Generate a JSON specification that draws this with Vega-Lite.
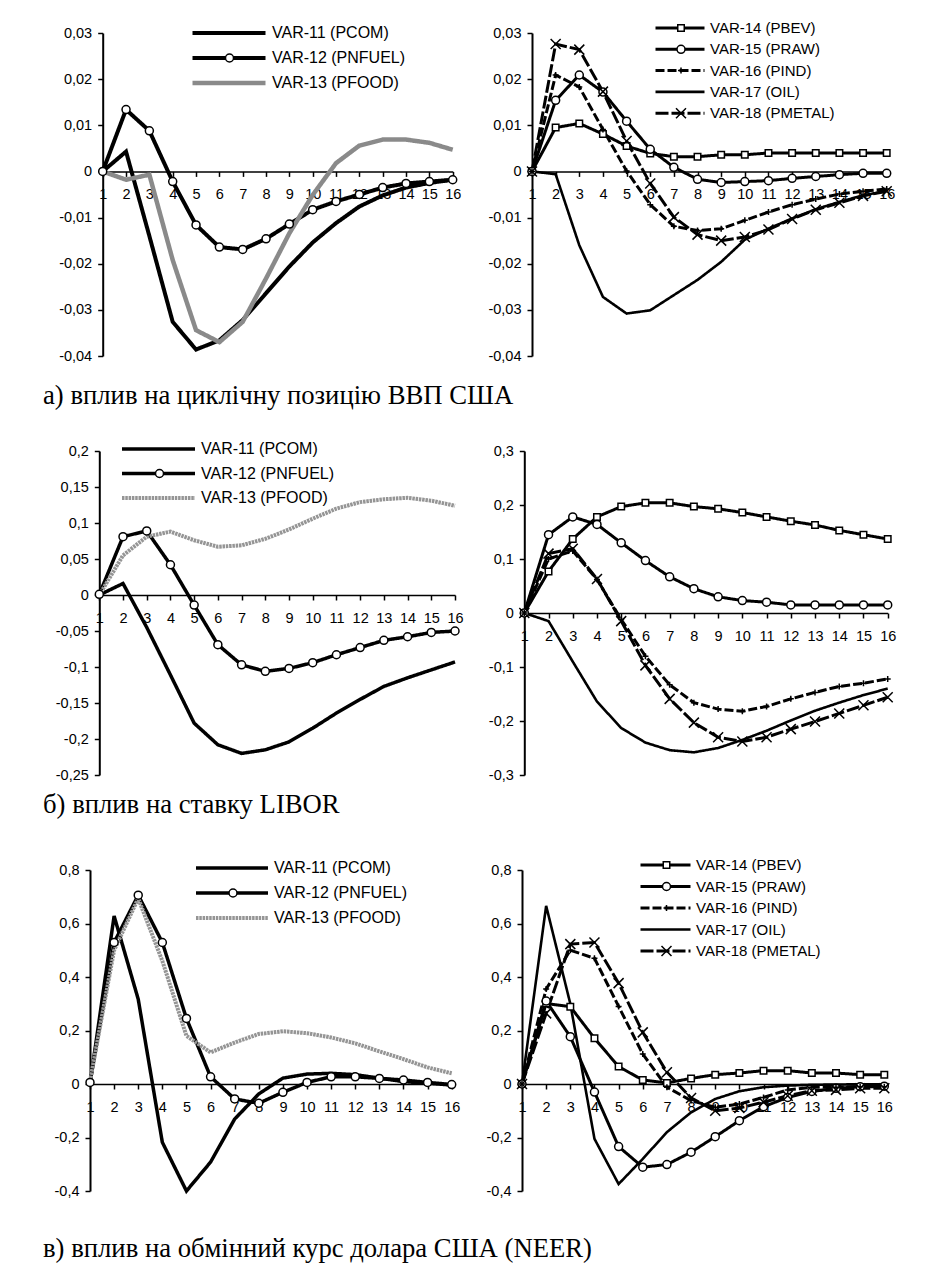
{
"$schema":"https://vega.github.io/schema/vega-lite/v6.json",
"background":"white",
"padding":{"left":43,"top":20,"right":5,"bottom":5},
"datasets":{
"p1":[
{"s":"VAR-11 (PCOM)","t":1,"v":0},{"s":"VAR-11 (PCOM)","t":2,"v":0.0043},{"s":"VAR-11 (PCOM)","t":3,"v":-0.014},{"s":"VAR-11 (PCOM)","t":4,"v":-0.0326},{"s":"VAR-11 (PCOM)","t":5,"v":-0.0386},{"s":"VAR-11 (PCOM)","t":6,"v":-0.0366},{"s":"VAR-11 (PCOM)","t":7,"v":-0.0322},{"s":"VAR-11 (PCOM)","t":8,"v":-0.0264},{"s":"VAR-11 (PCOM)","t":9,"v":-0.0206},{"s":"VAR-11 (PCOM)","t":10,"v":-0.0154},{"s":"VAR-11 (PCOM)","t":11,"v":-0.0112},{"s":"VAR-11 (PCOM)","t":12,"v":-0.0076},{"s":"VAR-11 (PCOM)","t":13,"v":-0.0052},{"s":"VAR-11 (PCOM)","t":14,"v":-0.0035},{"s":"VAR-11 (PCOM)","t":15,"v":-0.0025},{"s":"VAR-11 (PCOM)","t":16,"v":-0.0018},
{"s":"VAR-12 (PNFUEL)","t":1,"v":0},{"s":"VAR-12 (PNFUEL)","t":2,"v":0.0134},{"s":"VAR-12 (PNFUEL)","t":3,"v":0.0088},{"s":"VAR-12 (PNFUEL)","t":4,"v":-0.0022},{"s":"VAR-12 (PNFUEL)","t":5,"v":-0.0116},{"s":"VAR-12 (PNFUEL)","t":6,"v":-0.0164},{"s":"VAR-12 (PNFUEL)","t":7,"v":-0.0169},{"s":"VAR-12 (PNFUEL)","t":8,"v":-0.0146},{"s":"VAR-12 (PNFUEL)","t":9,"v":-0.0114},{"s":"VAR-12 (PNFUEL)","t":10,"v":-0.0083},{"s":"VAR-12 (PNFUEL)","t":11,"v":-0.0065},{"s":"VAR-12 (PNFUEL)","t":12,"v":-0.005},{"s":"VAR-12 (PNFUEL)","t":13,"v":-0.0035},{"s":"VAR-12 (PNFUEL)","t":14,"v":-0.0026},{"s":"VAR-12 (PNFUEL)","t":15,"v":-0.0022},{"s":"VAR-12 (PNFUEL)","t":16,"v":-0.0018},
{"s":"VAR-13 (PFOOD)","t":1,"v":0},{"s":"VAR-13 (PFOOD)","t":2,"v":-0.0018},{"s":"VAR-13 (PFOOD)","t":3,"v":-0.0007},{"s":"VAR-13 (PFOOD)","t":4,"v":-0.0192},{"s":"VAR-13 (PFOOD)","t":5,"v":-0.0344},{"s":"VAR-13 (PFOOD)","t":6,"v":-0.037},{"s":"VAR-13 (PFOOD)","t":7,"v":-0.0326},{"s":"VAR-13 (PFOOD)","t":8,"v":-0.0232},{"s":"VAR-13 (PFOOD)","t":9,"v":-0.0134},{"s":"VAR-13 (PFOOD)","t":10,"v":-0.0051},{"s":"VAR-13 (PFOOD)","t":11,"v":0.0018},{"s":"VAR-13 (PFOOD)","t":12,"v":0.0056},{"s":"VAR-13 (PFOOD)","t":13,"v":0.0069},{"s":"VAR-13 (PFOOD)","t":14,"v":0.0069},{"s":"VAR-13 (PFOOD)","t":15,"v":0.0062},{"s":"VAR-13 (PFOOD)","t":16,"v":0.0047}
],
"p2":[
{"s":"VAR-14 (PBEV)","t":1,"v":0},{"s":"VAR-14 (PBEV)","t":2,"v":0.0095},{"s":"VAR-14 (PBEV)","t":3,"v":0.0104},{"s":"VAR-14 (PBEV)","t":4,"v":0.0081},{"s":"VAR-14 (PBEV)","t":5,"v":0.0055},{"s":"VAR-14 (PBEV)","t":6,"v":0.0039},{"s":"VAR-14 (PBEV)","t":7,"v":0.0032},{"s":"VAR-14 (PBEV)","t":8,"v":0.0032},{"s":"VAR-14 (PBEV)","t":9,"v":0.0036},{"s":"VAR-14 (PBEV)","t":10,"v":0.0036},{"s":"VAR-14 (PBEV)","t":11,"v":0.004},{"s":"VAR-14 (PBEV)","t":12,"v":0.004},{"s":"VAR-14 (PBEV)","t":13,"v":0.004},{"s":"VAR-14 (PBEV)","t":14,"v":0.004},{"s":"VAR-14 (PBEV)","t":15,"v":0.004},{"s":"VAR-14 (PBEV)","t":16,"v":0.004},
{"s":"VAR-15 (PRAW)","t":1,"v":0},{"s":"VAR-15 (PRAW)","t":2,"v":0.0154},{"s":"VAR-15 (PRAW)","t":3,"v":0.0209},{"s":"VAR-15 (PRAW)","t":4,"v":0.0172},{"s":"VAR-15 (PRAW)","t":5,"v":0.0109},{"s":"VAR-15 (PRAW)","t":6,"v":0.0048},{"s":"VAR-15 (PRAW)","t":7,"v":0.0009},{"s":"VAR-15 (PRAW)","t":8,"v":-0.0017},{"s":"VAR-15 (PRAW)","t":9,"v":-0.0024},{"s":"VAR-15 (PRAW)","t":10,"v":-0.0022},{"s":"VAR-15 (PRAW)","t":11,"v":-0.002},{"s":"VAR-15 (PRAW)","t":12,"v":-0.0015},{"s":"VAR-15 (PRAW)","t":13,"v":-0.0011},{"s":"VAR-15 (PRAW)","t":14,"v":-0.0007},{"s":"VAR-15 (PRAW)","t":15,"v":-0.0004},{"s":"VAR-15 (PRAW)","t":16,"v":-0.0004},
{"s":"VAR-16 (PIND)","t":1,"v":0},{"s":"VAR-16 (PIND)","t":2,"v":0.0209},{"s":"VAR-16 (PIND)","t":3,"v":0.0183},{"s":"VAR-16 (PIND)","t":4,"v":0.0091},{"s":"VAR-16 (PIND)","t":5,"v":0.0001},{"s":"VAR-16 (PIND)","t":6,"v":-0.0072},{"s":"VAR-16 (PIND)","t":7,"v":-0.0119},{"s":"VAR-16 (PIND)","t":8,"v":-0.0128},{"s":"VAR-16 (PIND)","t":9,"v":-0.0124},{"s":"VAR-16 (PIND)","t":10,"v":-0.0106},{"s":"VAR-16 (PIND)","t":11,"v":-0.0088},{"s":"VAR-16 (PIND)","t":12,"v":-0.0072},{"s":"VAR-16 (PIND)","t":13,"v":-0.006},{"s":"VAR-16 (PIND)","t":14,"v":-0.0049},{"s":"VAR-16 (PIND)","t":15,"v":-0.0043},{"s":"VAR-16 (PIND)","t":16,"v":-0.0038},
{"s":"VAR-17 (OIL)","t":1,"v":0},{"s":"VAR-17 (OIL)","t":2,"v":-0.0006},{"s":"VAR-17 (OIL)","t":3,"v":-0.016},{"s":"VAR-17 (OIL)","t":4,"v":-0.0272},{"s":"VAR-17 (OIL)","t":5,"v":-0.0308},{"s":"VAR-17 (OIL)","t":6,"v":-0.0301},{"s":"VAR-17 (OIL)","t":7,"v":-0.0268},{"s":"VAR-17 (OIL)","t":8,"v":-0.0235},{"s":"VAR-17 (OIL)","t":9,"v":-0.0196},{"s":"VAR-17 (OIL)","t":10,"v":-0.0148},{"s":"VAR-17 (OIL)","t":11,"v":-0.0124},{"s":"VAR-17 (OIL)","t":12,"v":-0.0102},{"s":"VAR-17 (OIL)","t":13,"v":-0.0082},{"s":"VAR-17 (OIL)","t":14,"v":-0.0066},{"s":"VAR-17 (OIL)","t":15,"v":-0.0052},{"s":"VAR-17 (OIL)","t":16,"v":-0.0042},
{"s":"VAR-18 (PMETAL)","t":1,"v":0},{"s":"VAR-18 (PMETAL)","t":2,"v":0.0276},{"s":"VAR-18 (PMETAL)","t":3,"v":0.0264},{"s":"VAR-18 (PMETAL)","t":4,"v":0.0173},{"s":"VAR-18 (PMETAL)","t":5,"v":0.0066},{"s":"VAR-18 (PMETAL)","t":6,"v":-0.0026},{"s":"VAR-18 (PMETAL)","t":7,"v":-0.0099},{"s":"VAR-18 (PMETAL)","t":8,"v":-0.0137},{"s":"VAR-18 (PMETAL)","t":9,"v":-0.015},{"s":"VAR-18 (PMETAL)","t":10,"v":-0.0142},{"s":"VAR-18 (PMETAL)","t":11,"v":-0.0126},{"s":"VAR-18 (PMETAL)","t":12,"v":-0.0103},{"s":"VAR-18 (PMETAL)","t":13,"v":-0.0083},{"s":"VAR-18 (PMETAL)","t":14,"v":-0.0068},{"s":"VAR-18 (PMETAL)","t":15,"v":-0.0053},{"s":"VAR-18 (PMETAL)","t":16,"v":-0.0043}
],
"p3":[
{"s":"VAR-11 (PCOM)","t":1,"v":0},{"s":"VAR-11 (PCOM)","t":2,"v":0.016},{"s":"VAR-11 (PCOM)","t":3,"v":-0.045},{"s":"VAR-11 (PCOM)","t":4,"v":-0.111},{"s":"VAR-11 (PCOM)","t":5,"v":-0.178},{"s":"VAR-11 (PCOM)","t":6,"v":-0.208},{"s":"VAR-11 (PCOM)","t":7,"v":-0.22},{"s":"VAR-11 (PCOM)","t":8,"v":-0.215},{"s":"VAR-11 (PCOM)","t":9,"v":-0.204},{"s":"VAR-11 (PCOM)","t":10,"v":-0.185},{"s":"VAR-11 (PCOM)","t":11,"v":-0.164},{"s":"VAR-11 (PCOM)","t":12,"v":-0.145},{"s":"VAR-11 (PCOM)","t":13,"v":-0.127},{"s":"VAR-11 (PCOM)","t":14,"v":-0.115},{"s":"VAR-11 (PCOM)","t":15,"v":-0.104},{"s":"VAR-11 (PCOM)","t":16,"v":-0.093},
{"s":"VAR-12 (PNFUEL)","t":1,"v":0.001},{"s":"VAR-12 (PNFUEL)","t":2,"v":0.081},{"s":"VAR-12 (PNFUEL)","t":3,"v":0.089},{"s":"VAR-12 (PNFUEL)","t":4,"v":0.042},{"s":"VAR-12 (PNFUEL)","t":5,"v":-0.014},{"s":"VAR-12 (PNFUEL)","t":6,"v":-0.069},{"s":"VAR-12 (PNFUEL)","t":7,"v":-0.097},{"s":"VAR-12 (PNFUEL)","t":8,"v":-0.106},{"s":"VAR-12 (PNFUEL)","t":9,"v":-0.102},{"s":"VAR-12 (PNFUEL)","t":10,"v":-0.094},{"s":"VAR-12 (PNFUEL)","t":11,"v":-0.083},{"s":"VAR-12 (PNFUEL)","t":12,"v":-0.073},{"s":"VAR-12 (PNFUEL)","t":13,"v":-0.063},{"s":"VAR-12 (PNFUEL)","t":14,"v":-0.058},{"s":"VAR-12 (PNFUEL)","t":15,"v":-0.052},{"s":"VAR-12 (PNFUEL)","t":16,"v":-0.05},
{"s":"VAR-13 (PFOOD)","t":1,"v":0},{"s":"VAR-13 (PFOOD)","t":2,"v":0.055},{"s":"VAR-13 (PFOOD)","t":3,"v":0.081},{"s":"VAR-13 (PFOOD)","t":4,"v":0.088},{"s":"VAR-13 (PFOOD)","t":5,"v":0.076},{"s":"VAR-13 (PFOOD)","t":6,"v":0.067},{"s":"VAR-13 (PFOOD)","t":7,"v":0.069},{"s":"VAR-13 (PFOOD)","t":8,"v":0.078},{"s":"VAR-13 (PFOOD)","t":9,"v":0.091},{"s":"VAR-13 (PFOOD)","t":10,"v":0.106},{"s":"VAR-13 (PFOOD)","t":11,"v":0.12},{"s":"VAR-13 (PFOOD)","t":12,"v":0.129},{"s":"VAR-13 (PFOOD)","t":13,"v":0.133},{"s":"VAR-13 (PFOOD)","t":14,"v":0.135},{"s":"VAR-13 (PFOOD)","t":15,"v":0.131},{"s":"VAR-13 (PFOOD)","t":16,"v":0.124}
],
"p4":[
{"s":"VAR-14 (PBEV)","t":1,"v":0},{"s":"VAR-14 (PBEV)","t":2,"v":0.077},{"s":"VAR-14 (PBEV)","t":3,"v":0.137},{"s":"VAR-14 (PBEV)","t":4,"v":0.178},{"s":"VAR-14 (PBEV)","t":5,"v":0.197},{"s":"VAR-14 (PBEV)","t":6,"v":0.204},{"s":"VAR-14 (PBEV)","t":7,"v":0.204},{"s":"VAR-14 (PBEV)","t":8,"v":0.197},{"s":"VAR-14 (PBEV)","t":9,"v":0.193},{"s":"VAR-14 (PBEV)","t":10,"v":0.186},{"s":"VAR-14 (PBEV)","t":11,"v":0.178},{"s":"VAR-14 (PBEV)","t":12,"v":0.17},{"s":"VAR-14 (PBEV)","t":13,"v":0.163},{"s":"VAR-14 (PBEV)","t":14,"v":0.153},{"s":"VAR-14 (PBEV)","t":15,"v":0.145},{"s":"VAR-14 (PBEV)","t":16,"v":0.137},
{"s":"VAR-15 (PRAW)","t":1,"v":0},{"s":"VAR-15 (PRAW)","t":2,"v":0.145},{"s":"VAR-15 (PRAW)","t":3,"v":0.178},{"s":"VAR-15 (PRAW)","t":4,"v":0.164},{"s":"VAR-15 (PRAW)","t":5,"v":0.13},{"s":"VAR-15 (PRAW)","t":6,"v":0.097},{"s":"VAR-15 (PRAW)","t":7,"v":0.067},{"s":"VAR-15 (PRAW)","t":8,"v":0.045},{"s":"VAR-15 (PRAW)","t":9,"v":0.03},{"s":"VAR-15 (PRAW)","t":10,"v":0.023},{"s":"VAR-15 (PRAW)","t":11,"v":0.02},{"s":"VAR-15 (PRAW)","t":12,"v":0.015},{"s":"VAR-15 (PRAW)","t":13,"v":0.015},{"s":"VAR-15 (PRAW)","t":14,"v":0.015},{"s":"VAR-15 (PRAW)","t":15,"v":0.015},{"s":"VAR-15 (PRAW)","t":16,"v":0.015},
{"s":"VAR-16 (PIND)","t":1,"v":0},{"s":"VAR-16 (PIND)","t":2,"v":0.1},{"s":"VAR-16 (PIND)","t":3,"v":0.115},{"s":"VAR-16 (PIND)","t":4,"v":0.062},{"s":"VAR-16 (PIND)","t":5,"v":-0.012},{"s":"VAR-16 (PIND)","t":6,"v":-0.08},{"s":"VAR-16 (PIND)","t":7,"v":-0.133},{"s":"VAR-16 (PIND)","t":8,"v":-0.166},{"s":"VAR-16 (PIND)","t":9,"v":-0.178},{"s":"VAR-16 (PIND)","t":10,"v":-0.182},{"s":"VAR-16 (PIND)","t":11,"v":-0.173},{"s":"VAR-16 (PIND)","t":12,"v":-0.159},{"s":"VAR-16 (PIND)","t":13,"v":-0.147},{"s":"VAR-16 (PIND)","t":14,"v":-0.136},{"s":"VAR-16 (PIND)","t":15,"v":-0.13},{"s":"VAR-16 (PIND)","t":16,"v":-0.122},
{"s":"VAR-17 (OIL)","t":1,"v":0},{"s":"VAR-17 (OIL)","t":2,"v":-0.015},{"s":"VAR-17 (OIL)","t":3,"v":-0.09},{"s":"VAR-17 (OIL)","t":4,"v":-0.164},{"s":"VAR-17 (OIL)","t":5,"v":-0.213},{"s":"VAR-17 (OIL)","t":6,"v":-0.24},{"s":"VAR-17 (OIL)","t":7,"v":-0.254},{"s":"VAR-17 (OIL)","t":8,"v":-0.258},{"s":"VAR-17 (OIL)","t":9,"v":-0.25},{"s":"VAR-17 (OIL)","t":10,"v":-0.235},{"s":"VAR-17 (OIL)","t":11,"v":-0.218},{"s":"VAR-17 (OIL)","t":12,"v":-0.199},{"s":"VAR-17 (OIL)","t":13,"v":-0.181},{"s":"VAR-17 (OIL)","t":14,"v":-0.166},{"s":"VAR-17 (OIL)","t":15,"v":-0.152},{"s":"VAR-17 (OIL)","t":16,"v":-0.14},
{"s":"VAR-18 (PMETAL)","t":1,"v":0},{"s":"VAR-18 (PMETAL)","t":2,"v":0.11},{"s":"VAR-18 (PMETAL)","t":3,"v":0.119},{"s":"VAR-18 (PMETAL)","t":4,"v":0.063},{"s":"VAR-18 (PMETAL)","t":5,"v":-0.015},{"s":"VAR-18 (PMETAL)","t":6,"v":-0.097},{"s":"VAR-18 (PMETAL)","t":7,"v":-0.159},{"s":"VAR-18 (PMETAL)","t":8,"v":-0.203},{"s":"VAR-18 (PMETAL)","t":9,"v":-0.23},{"s":"VAR-18 (PMETAL)","t":10,"v":-0.238},{"s":"VAR-18 (PMETAL)","t":11,"v":-0.23},{"s":"VAR-18 (PMETAL)","t":12,"v":-0.215},{"s":"VAR-18 (PMETAL)","t":13,"v":-0.201},{"s":"VAR-18 (PMETAL)","t":14,"v":-0.186},{"s":"VAR-18 (PMETAL)","t":15,"v":-0.171},{"s":"VAR-18 (PMETAL)","t":16,"v":-0.156}
],
"p5":[
{"s":"VAR-11 (PCOM)","t":1,"v":0},{"s":"VAR-11 (PCOM)","t":2,"v":0.628},{"s":"VAR-11 (PCOM)","t":3,"v":0.317},{"s":"VAR-11 (PCOM)","t":4,"v":-0.218},{"s":"VAR-11 (PCOM)","t":5,"v":-0.4},{"s":"VAR-11 (PCOM)","t":6,"v":-0.292},{"s":"VAR-11 (PCOM)","t":7,"v":-0.131},{"s":"VAR-11 (PCOM)","t":8,"v":-0.037},{"s":"VAR-11 (PCOM)","t":9,"v":0.022},{"s":"VAR-11 (PCOM)","t":10,"v":0.037},{"s":"VAR-11 (PCOM)","t":11,"v":0.04},{"s":"VAR-11 (PCOM)","t":12,"v":0.035},{"s":"VAR-11 (PCOM)","t":13,"v":0.022},{"s":"VAR-11 (PCOM)","t":14,"v":0.009},{"s":"VAR-11 (PCOM)","t":15,"v":0.003},{"s":"VAR-11 (PCOM)","t":16,"v":-0.004},
{"s":"VAR-12 (PNFUEL)","t":1,"v":0.006},{"s":"VAR-12 (PNFUEL)","t":2,"v":0.529},{"s":"VAR-12 (PNFUEL)","t":3,"v":0.706},{"s":"VAR-12 (PNFUEL)","t":4,"v":0.529},{"s":"VAR-12 (PNFUEL)","t":5,"v":0.245},{"s":"VAR-12 (PNFUEL)","t":6,"v":0.027},{"s":"VAR-12 (PNFUEL)","t":7,"v":-0.056},{"s":"VAR-12 (PNFUEL)","t":8,"v":-0.072},{"s":"VAR-12 (PNFUEL)","t":9,"v":-0.031},{"s":"VAR-12 (PNFUEL)","t":10,"v":0.006},{"s":"VAR-12 (PNFUEL)","t":11,"v":0.027},{"s":"VAR-12 (PNFUEL)","t":12,"v":0.027},{"s":"VAR-12 (PNFUEL)","t":13,"v":0.021},{"s":"VAR-12 (PNFUEL)","t":14,"v":0.015},{"s":"VAR-12 (PNFUEL)","t":15,"v":0.006},{"s":"VAR-12 (PNFUEL)","t":16,"v":-0.002},
{"s":"VAR-13 (PFOOD)","t":1,"v":0.01},{"s":"VAR-13 (PFOOD)","t":2,"v":0.5},{"s":"VAR-13 (PFOOD)","t":3,"v":0.694},{"s":"VAR-13 (PFOOD)","t":4,"v":0.46},{"s":"VAR-13 (PFOOD)","t":5,"v":0.18},{"s":"VAR-13 (PFOOD)","t":6,"v":0.118},{"s":"VAR-13 (PFOOD)","t":7,"v":0.155},{"s":"VAR-13 (PFOOD)","t":8,"v":0.187},{"s":"VAR-13 (PFOOD)","t":9,"v":0.197},{"s":"VAR-13 (PFOOD)","t":10,"v":0.19},{"s":"VAR-13 (PFOOD)","t":11,"v":0.174},{"s":"VAR-13 (PFOOD)","t":12,"v":0.152},{"s":"VAR-13 (PFOOD)","t":13,"v":0.122},{"s":"VAR-13 (PFOOD)","t":14,"v":0.093},{"s":"VAR-13 (PFOOD)","t":15,"v":0.062},{"s":"VAR-13 (PFOOD)","t":16,"v":0.04}
],
"p6":[
{"s":"VAR-14 (PBEV)","t":1,"v":0},{"s":"VAR-14 (PBEV)","t":2,"v":0.301},{"s":"VAR-14 (PBEV)","t":3,"v":0.289},{"s":"VAR-14 (PBEV)","t":4,"v":0.171},{"s":"VAR-14 (PBEV)","t":5,"v":0.065},{"s":"VAR-14 (PBEV)","t":6,"v":0.015},{"s":"VAR-14 (PBEV)","t":7,"v":0.004},{"s":"VAR-14 (PBEV)","t":8,"v":0.021},{"s":"VAR-14 (PBEV)","t":9,"v":0.035},{"s":"VAR-14 (PBEV)","t":10,"v":0.041},{"s":"VAR-14 (PBEV)","t":11,"v":0.05},{"s":"VAR-14 (PBEV)","t":12,"v":0.05},{"s":"VAR-14 (PBEV)","t":13,"v":0.041},{"s":"VAR-14 (PBEV)","t":14,"v":0.041},{"s":"VAR-14 (PBEV)","t":15,"v":0.035},{"s":"VAR-14 (PBEV)","t":16,"v":0.035},
{"s":"VAR-15 (PRAW)","t":1,"v":0},{"s":"VAR-15 (PRAW)","t":2,"v":0.31},{"s":"VAR-15 (PRAW)","t":3,"v":0.177},{"s":"VAR-15 (PRAW)","t":4,"v":-0.03},{"s":"VAR-15 (PRAW)","t":5,"v":-0.234},{"s":"VAR-15 (PRAW)","t":6,"v":-0.311},{"s":"VAR-15 (PRAW)","t":7,"v":-0.301},{"s":"VAR-15 (PRAW)","t":8,"v":-0.255},{"s":"VAR-15 (PRAW)","t":9,"v":-0.197},{"s":"VAR-15 (PRAW)","t":10,"v":-0.137},{"s":"VAR-15 (PRAW)","t":11,"v":-0.085},{"s":"VAR-15 (PRAW)","t":12,"v":-0.05},{"s":"VAR-15 (PRAW)","t":13,"v":-0.028},{"s":"VAR-15 (PRAW)","t":14,"v":-0.016},{"s":"VAR-15 (PRAW)","t":15,"v":-0.01},{"s":"VAR-15 (PRAW)","t":16,"v":-0.008},
{"s":"VAR-16 (PIND)","t":1,"v":0},{"s":"VAR-16 (PIND)","t":2,"v":0.355},{"s":"VAR-16 (PIND)","t":3,"v":0.5},{"s":"VAR-16 (PIND)","t":4,"v":0.47},{"s":"VAR-16 (PIND)","t":5,"v":0.29},{"s":"VAR-16 (PIND)","t":6,"v":0.112},{"s":"VAR-16 (PIND)","t":7,"v":-0.012},{"s":"VAR-16 (PIND)","t":8,"v":-0.062},{"s":"VAR-16 (PIND)","t":9,"v":-0.087},{"s":"VAR-16 (PIND)","t":10,"v":-0.075},{"s":"VAR-16 (PIND)","t":11,"v":-0.05},{"s":"VAR-16 (PIND)","t":12,"v":-0.022},{"s":"VAR-16 (PIND)","t":13,"v":-0.012},{"s":"VAR-16 (PIND)","t":14,"v":-0.012},{"s":"VAR-16 (PIND)","t":15,"v":-0.01},{"s":"VAR-16 (PIND)","t":16,"v":-0.01},
{"s":"VAR-17 (OIL)","t":1,"v":0},{"s":"VAR-17 (OIL)","t":2,"v":0.666},{"s":"VAR-17 (OIL)","t":3,"v":0.3},{"s":"VAR-17 (OIL)","t":4,"v":-0.205},{"s":"VAR-17 (OIL)","t":5,"v":-0.374},{"s":"VAR-17 (OIL)","t":6,"v":-0.28},{"s":"VAR-17 (OIL)","t":7,"v":-0.18},{"s":"VAR-17 (OIL)","t":8,"v":-0.106},{"s":"VAR-17 (OIL)","t":9,"v":-0.056},{"s":"VAR-17 (OIL)","t":10,"v":-0.027},{"s":"VAR-17 (OIL)","t":11,"v":-0.012},{"s":"VAR-17 (OIL)","t":12,"v":-0.006},{"s":"VAR-17 (OIL)","t":13,"v":-0.003},{"s":"VAR-17 (OIL)","t":14,"v":-0.002},{"s":"VAR-17 (OIL)","t":15,"v":-0.001},{"s":"VAR-17 (OIL)","t":16,"v":-0.001},
{"s":"VAR-18 (PMETAL)","t":1,"v":0},{"s":"VAR-18 (PMETAL)","t":2,"v":0.264},{"s":"VAR-18 (PMETAL)","t":3,"v":0.523},{"s":"VAR-18 (PMETAL)","t":4,"v":0.529},{"s":"VAR-18 (PMETAL)","t":5,"v":0.377},{"s":"VAR-18 (PMETAL)","t":6,"v":0.193},{"s":"VAR-18 (PMETAL)","t":7,"v":0.044},{"s":"VAR-18 (PMETAL)","t":8,"v":-0.052},{"s":"VAR-18 (PMETAL)","t":9,"v":-0.1},{"s":"VAR-18 (PMETAL)","t":10,"v":-0.09},{"s":"VAR-18 (PMETAL)","t":11,"v":-0.068},{"s":"VAR-18 (PMETAL)","t":12,"v":-0.044},{"s":"VAR-18 (PMETAL)","t":13,"v":-0.025},{"s":"VAR-18 (PMETAL)","t":14,"v":-0.022},{"s":"VAR-18 (PMETAL)","t":15,"v":-0.016},{"s":"VAR-18 (PMETAL)","t":16,"v":-0.016}
]
},
"columns":2,
"bounds":"flush",
"spacing":{"row":95,"column":67},
"resolve":{"scale":{"x":"independent","y":"independent","color":"independent","strokeDash":"independent","strokeWidth":"independent","shape":"independent"},"legend":{"color":"independent","strokeDash":"independent","strokeWidth":"independent","shape":"independent"}},
"concat":[
{
"width":365,"height":323,
"data":{"name":"p1"},
"title":{"text":"а) вплив на циклічну позицію ВВП США","orient":"bottom","anchor":"start","frame":"group","baseline":"alphabetic","offset":41,"dx":-47},
"encoding":{
"x":{"field":"t","type":"quantitative","scale":{"domain":[1,16],"range":[12.7,362.7],"nice":false,"zero":false},"axis":{"values":[1,2,3,4,5,6,7,8,9,10,11,12,13,14,15,16],"format":"d","offset":-184.6,"labelPadding":11,"domainWidth":1.5}},
"y":{"field":"v","type":"quantitative","scale":{"domain":[-0.04,0.03],"nice":false,"zero":false},"axis":{"values":[-0.04,-0.03,-0.02,-0.01,0,0.01,0.02,0.03],"format":".2~f","offset":-12.7,"labelPadding":6,"domainWidth":2}}
},
"layer":[
{"mark":{"type":"line"},"encoding":{
"color":{"field":"s","type":"nominal","scale":{"range":["black","black","#8a8a8a"]},"legend":{"orient":"none","legendX":100,"legendY":-8,"title":null,"symbolType":"stroke","symbolSize":5329,"clipHeight":16,"rowPadding":9,"labelFontSize":16,"labelOffset":4}},
"strokeDash":{"field":"s","type":"nominal","scale":{"range":[[1,0],[1,0],[1,0]]},"legend":{"orient":"none","legendX":100,"legendY":-8,"title":null,"symbolType":"stroke","symbolSize":5329,"clipHeight":16,"rowPadding":9,"labelFontSize":16,"labelOffset":4}},
"strokeWidth":{"field":"s","type":"nominal","scale":{"type":"ordinal","range":[4,4,4.5]},"legend":{"orient":"none","legendX":100,"legendY":-8,"title":null,"symbolType":"stroke","symbolSize":5329,"clipHeight":16,"rowPadding":9,"labelFontSize":16,"labelOffset":4}}
}},
{"mark":{"type":"point","filled":true,"fill":"white","stroke":"black","strokeWidth":1.5,"size":100,"opacity":1},"encoding":{
"shape":{"field":"s","type":"nominal","scale":{"domain":["VAR-11 (PCOM)","VAR-12 (PNFUEL)","VAR-13 (PFOOD)"],"range":["M0,0","M0.8,0A0.8,0.8,0,1,1,-0.8,0A0.8,0.8,0,1,1,0.8,0Z","M0,0"]},"legend":{"orient":"none","legendX":131.5,"legendY":-8,"title":null,"symbolSize":100,"clipHeight":16,"rowPadding":9,"labelFontSize":16,"labelOpacity":0,"labelExpr":"' '","encode":{"symbols":{"update":{"stroke":{"value":"black"},"strokeWidth":{"value":1.5},"fill":{"value":"white"},"opacity":{"value":1}}}}}}
}}
]
},
{
"width":366,"height":323,
"data":{"name":"p2"},
"encoding":{
"x":{"field":"t","type":"quantitative","scale":{"domain":[1,16],"range":[10,364.7],"nice":false,"zero":false},"axis":{"values":[1,2,3,4,5,6,7,8,9,10,11,12,13,14,15,16],"format":"d","offset":-184.6,"labelPadding":11,"domainWidth":1.5}},
"y":{"field":"v","type":"quantitative","scale":{"domain":[-0.04,0.03],"nice":false,"zero":false},"axis":{"values":[-0.04,-0.03,-0.02,-0.01,0,0.01,0.02,0.03],"format":".2~f","offset":-10,"labelPadding":6,"domainWidth":2}}
},
"layer":[
{"mark":{"type":"line"},"encoding":{
"color":{"field":"s","type":"nominal","scale":{"range":["black","black","black","black","black"]},"legend":{"orient":"none","legendX":132,"legendY":-12.5,"title":null,"symbolType":"stroke","symbolSize":2401,"clipHeight":15,"rowPadding":5.3,"labelFontSize":15,"labelOffset":4}},
"strokeDash":{"field":"s","type":"nominal","scale":{"range":[[1,0],[1,0],[9,3],[1,0],[13,3]]},"legend":{"orient":"none","legendX":132,"legendY":-12.5,"title":null,"symbolType":"stroke","symbolSize":2401,"clipHeight":15,"rowPadding":5.3,"labelFontSize":15,"labelOffset":4}},
"strokeWidth":{"field":"s","type":"nominal","scale":{"type":"ordinal","range":[3,3,3,2.6,3]},"legend":{"orient":"none","legendX":132,"legendY":-12.5,"title":null,"symbolType":"stroke","symbolSize":2401,"clipHeight":15,"rowPadding":5.3,"labelFontSize":15,"labelOffset":4}}
}},
{"mark":{"type":"point","filled":true,"fill":"white","stroke":"black","strokeWidth":1.5,"size":100,"opacity":1},"encoding":{
"shape":{"field":"s","type":"nominal","scale":{"domain":["VAR-14 (PBEV)","VAR-15 (PRAW)","VAR-16 (PIND)","VAR-17 (OIL)","VAR-18 (PMETAL)"],"range":["M-0.65,-0.65H0.65V0.65H-0.65Z","M0.8,0A0.8,0.8,0,1,1,-0.8,0A0.8,0.8,0,1,1,0.8,0Z","M-0.6,0H0.6M0,-0.6V0.6","M0,0","M-1,-1L1,1M-1,1L1,-1"]},"legend":{"orient":"none","legendX":151.5,"legendY":-12.5,"title":null,"symbolSize":100,"clipHeight":15,"rowPadding":5.3,"labelFontSize":15,"labelOpacity":0,"labelExpr":"' '","encode":{"symbols":{"update":{"stroke":{"value":"black"},"strokeWidth":{"value":1.5},"fill":{"value":"white"},"opacity":{"value":1}}}}}}
}}
]
},
{
"width":365,"height":324,
"data":{"name":"p3"},
"title":{"text":"б) вплив на ставку LIBOR","orient":"bottom","anchor":"start","frame":"group","baseline":"alphabetic","offset":31,"dx":-47},
"encoding":{
"x":{"field":"t","type":"quantitative","scale":{"domain":[1,16],"range":[9.3,365],"nice":false,"zero":false},"axis":{"values":[1,2,3,4,5,6,7,8,9,10,11,12,13,14,15,16],"format":"d","offset":-180,"labelPadding":11,"domainWidth":1.5}},
"y":{"field":"v","type":"quantitative","scale":{"domain":[-0.25,0.2],"nice":false,"zero":false},"axis":{"values":[-0.25,-0.2,-0.15,-0.1,-0.05,0,0.05,0.1,0.15,0.2],"format":".2~f","offset":-9.3,"labelPadding":6,"domainWidth":2}}
},
"layer":[
{"mark":{"type":"line"},"encoding":{
"color":{"field":"s","type":"nominal","scale":{"range":["black","black","#959595"]},"legend":{"orient":"none","legendX":30,"legendY":-10,"title":null,"symbolType":"stroke","symbolSize":5329,"clipHeight":16,"rowPadding":8.5,"labelFontSize":16,"labelOffset":4}},
"strokeDash":{"field":"s","type":"nominal","scale":{"range":[[1,0],[1,0],[2.5,0.8]]},"legend":{"orient":"none","legendX":30,"legendY":-10,"title":null,"symbolType":"stroke","symbolSize":5329,"clipHeight":16,"rowPadding":8.5,"labelFontSize":16,"labelOffset":4}},
"strokeWidth":{"field":"s","type":"nominal","scale":{"type":"ordinal","range":[3.5,3.5,4]},"legend":{"orient":"none","legendX":30,"legendY":-10,"title":null,"symbolType":"stroke","symbolSize":5329,"clipHeight":16,"rowPadding":8.5,"labelFontSize":16,"labelOffset":4}}
}},
{"mark":{"type":"point","filled":true,"fill":"white","stroke":"black","strokeWidth":1.5,"size":100,"opacity":1},"encoding":{
"shape":{"field":"s","type":"nominal","scale":{"domain":["VAR-11 (PCOM)","VAR-12 (PNFUEL)","VAR-13 (PFOOD)"],"range":["M0,0","M0.8,0A0.8,0.8,0,1,1,-0.8,0A0.8,0.8,0,1,1,0.8,0Z","M0,0"]},"legend":{"orient":"none","legendX":61.5,"legendY":-10,"title":null,"symbolSize":100,"clipHeight":16,"rowPadding":8.5,"labelFontSize":16,"labelOpacity":0,"labelExpr":"' '","encode":{"symbols":{"update":{"stroke":{"value":"black"},"strokeWidth":{"value":1.5},"fill":{"value":"white"},"opacity":{"value":1}}}}}}
}}
]
},
{
"width":366,"height":324,
"data":{"name":"p4"},
"encoding":{
"x":{"field":"t","type":"quantitative","scale":{"domain":[1,16],"range":[2.3,365.7],"nice":false,"zero":false},"axis":{"values":[1,2,3,4,5,6,7,8,9,10,11,12,13,14,15,16],"format":"d","offset":-162,"labelPadding":11,"domainWidth":1.5}},
"y":{"field":"v","type":"quantitative","scale":{"domain":[-0.3,0.3],"nice":false,"zero":false},"axis":{"values":[-0.3,-0.2,-0.1,0,0.1,0.2,0.3],"format":".2~f","offset":-2.3,"labelPadding":6,"domainWidth":2}}
},
"layer":[
{"mark":{"type":"line"},"encoding":{
"color":{"field":"s","type":"nominal","scale":{"range":["black","black","black","black","black"]},"legend":null},
"strokeDash":{"field":"s","type":"nominal","scale":{"range":[[1,0],[1,0],[9,3],[1,0],[13,3]]},"legend":null},
"strokeWidth":{"field":"s","type":"nominal","scale":{"type":"ordinal","range":[3,3,3,2.6,3]},"legend":null}
}},
{"mark":{"type":"point","filled":true,"fill":"white","stroke":"black","strokeWidth":1.5,"size":100,"opacity":1},"encoding":{
"shape":{"field":"s","type":"nominal","scale":{"domain":["VAR-14 (PBEV)","VAR-15 (PRAW)","VAR-16 (PIND)","VAR-17 (OIL)","VAR-18 (PMETAL)"],"range":["M-0.65,-0.65H0.65V0.65H-0.65Z","M0.8,0A0.8,0.8,0,1,1,-0.8,0A0.8,0.8,0,1,1,0.8,0Z","M-0.6,0H0.6M0,-0.6V0.6","M0,0","M-1,-1L1,1M-1,1L1,-1"]},"legend":null}
}}
]
},
{
"width":365,"height":321,
"data":{"name":"p5"},
"title":{"text":"в) вплив на обмінний курс долара США (NEER)","orient":"bottom","anchor":"start","frame":"group","baseline":"alphabetic","offset":59,"dx":-47},
"encoding":{
"x":{"field":"t","type":"quantitative","scale":{"domain":[1,16],"range":[0,361.7],"nice":false,"zero":false},"axis":{"values":[1,2,3,4,5,6,7,8,9,10,11,12,13,14,15,16],"format":"d","offset":-107,"labelPadding":11,"domainWidth":1.5}},
"y":{"field":"v","type":"quantitative","scale":{"domain":[-0.4,0.8],"nice":false,"zero":false},"axis":{"values":[-0.4,-0.2,0,0.2,0.4,0.6,0.8],"format":".2~f","offset":0,"labelPadding":6,"domainWidth":2}}
},
"layer":[
{"mark":{"type":"line"},"encoding":{
"color":{"field":"s","type":"nominal","scale":{"range":["black","black","#959595"]},"legend":{"orient":"none","legendX":104,"legendY":-10,"title":null,"symbolType":"stroke","symbolSize":5184,"clipHeight":16,"rowPadding":9,"labelFontSize":16,"labelOffset":4}},
"strokeDash":{"field":"s","type":"nominal","scale":{"range":[[1,0],[1,0],[2.5,0.8]]},"legend":{"orient":"none","legendX":104,"legendY":-10,"title":null,"symbolType":"stroke","symbolSize":5184,"clipHeight":16,"rowPadding":9,"labelFontSize":16,"labelOffset":4}},
"strokeWidth":{"field":"s","type":"nominal","scale":{"type":"ordinal","range":[3.5,3.5,4]},"legend":{"orient":"none","legendX":104,"legendY":-10,"title":null,"symbolType":"stroke","symbolSize":5184,"clipHeight":16,"rowPadding":9,"labelFontSize":16,"labelOffset":4}}
}},
{"mark":{"type":"point","filled":true,"fill":"white","stroke":"black","strokeWidth":1.5,"size":100,"opacity":1},"encoding":{
"shape":{"field":"s","type":"nominal","scale":{"domain":["VAR-11 (PCOM)","VAR-12 (PNFUEL)","VAR-13 (PFOOD)"],"range":["M0,0","M0.8,0A0.8,0.8,0,1,1,-0.8,0A0.8,0.8,0,1,1,0.8,0Z","M0,0"]},"legend":{"orient":"none","legendX":135,"legendY":-10,"title":null,"symbolSize":100,"clipHeight":16,"rowPadding":9,"labelFontSize":16,"labelOpacity":0,"labelExpr":"' '","encode":{"symbols":{"update":{"stroke":{"value":"black"},"strokeWidth":{"value":1.5},"fill":{"value":"white"},"opacity":{"value":1}}}}}}
}}
]
},
{
"width":366,"height":321,
"data":{"name":"p6"},
"encoding":{
"x":{"field":"t","type":"quantitative","scale":{"domain":[1,16],"range":[0,362.3],"nice":false,"zero":false},"axis":{"values":[1,2,3,4,5,6,7,8,9,10,11,12,13,14,15,16],"format":"d","offset":-107,"labelPadding":11,"domainWidth":1.5}},
"y":{"field":"v","type":"quantitative","scale":{"domain":[-0.4,0.8],"nice":false,"zero":false},"axis":{"values":[-0.4,-0.2,0,0.2,0.4,0.6,0.8],"format":".2~f","offset":0,"labelPadding":6,"domainWidth":2}}
},
"layer":[
{"mark":{"type":"line"},"encoding":{
"color":{"field":"s","type":"nominal","scale":{"range":["black","black","black","black","black"]},"legend":{"orient":"none","legendX":117,"legendY":-12.5,"title":null,"symbolType":"stroke","symbolSize":2500,"clipHeight":15,"rowPadding":5.5,"labelFontSize":15,"labelOffset":4}},
"strokeDash":{"field":"s","type":"nominal","scale":{"range":[[1,0],[1,0],[9,3],[1,0],[13,3]]},"legend":{"orient":"none","legendX":117,"legendY":-12.5,"title":null,"symbolType":"stroke","symbolSize":2500,"clipHeight":15,"rowPadding":5.5,"labelFontSize":15,"labelOffset":4}},
"strokeWidth":{"field":"s","type":"nominal","scale":{"type":"ordinal","range":[3,3,3,2.6,3]},"legend":{"orient":"none","legendX":117,"legendY":-12.5,"title":null,"symbolType":"stroke","symbolSize":2500,"clipHeight":15,"rowPadding":5.5,"labelFontSize":15,"labelOffset":4}}
}},
{"mark":{"type":"point","filled":true,"fill":"white","stroke":"black","strokeWidth":1.5,"size":100,"opacity":1},"encoding":{
"shape":{"field":"s","type":"nominal","scale":{"domain":["VAR-14 (PBEV)","VAR-15 (PRAW)","VAR-16 (PIND)","VAR-17 (OIL)","VAR-18 (PMETAL)"],"range":["M-0.65,-0.65H0.65V0.65H-0.65Z","M0.8,0A0.8,0.8,0,1,1,-0.8,0A0.8,0.8,0,1,1,0.8,0Z","M-0.6,0H0.6M0,-0.6V0.6","M0,0","M-1,-1L1,1M-1,1L1,-1"]},"legend":{"orient":"none","legendX":137,"legendY":-12.5,"title":null,"symbolSize":100,"clipHeight":15,"rowPadding":5.5,"labelFontSize":15,"labelOpacity":0,"labelExpr":"' '","encode":{"symbols":{"update":{"stroke":{"value":"black"},"strokeWidth":{"value":1.5},"fill":{"value":"white"},"opacity":{"value":1}}}}}}
}}
]
}
],
"config":{
"view":{"stroke":null},
"font":"Liberation Sans",
"axis":{"labelFont":"Liberation Sans","labelFontSize":14.5,"labelColor":"black","domainColor":"black","tickColor":"black","tickWidth":1.5,"tickSize":5,"grid":false,"title":null,"labelFlush":false,"labelOverlap":false},
"legend":{"labelFont":"Liberation Sans","labelColor":"black","padding":0,"labelLimit":400},
"title":{"font":"Liberation Serif","fontSize":26.7,"fontWeight":"normal","color":"black"},
"locale":{"number":{"decimal":",","thousands":" ","grouping":[3],"currency":["",""],"minus":"-"}}
}
}
